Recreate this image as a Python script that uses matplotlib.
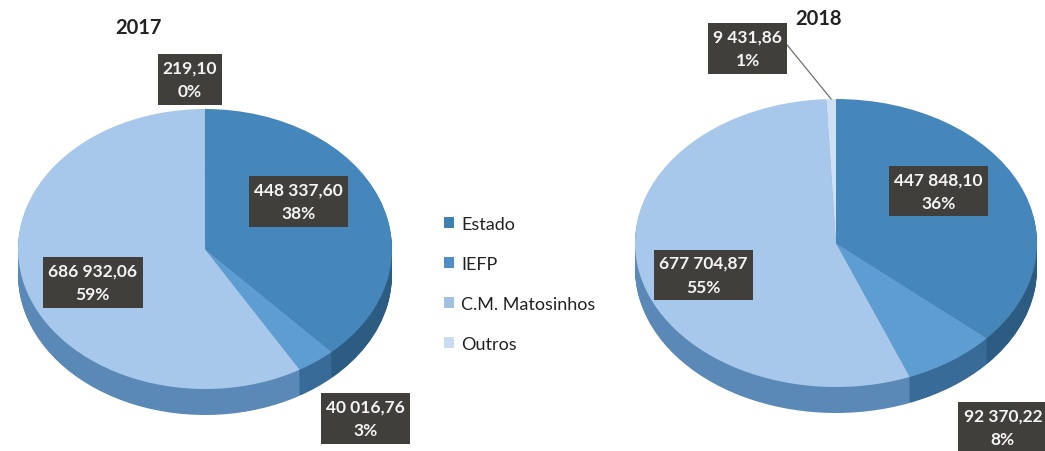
import matplotlib.pyplot as plt
import numpy as np
from matplotlib.patches import Patch

plt.rcParams["font.family"] = ["Lato", "DejaVu Sans"]

categories = ["Estado", "IEFP", "C.M. Matosinhos", "Outros"]
values_2017 = [448337.60, 40016.76, 686932.06, 219.10]
values_2018 = [447848.10, 92370.22, 677704.87, 9431.86]
pct_2017 = ["38%", "3%", "59%", "0%"]
pct_2018 = ["36%", "8%", "55%", "1%"]

top_colors = ["#4586bb", "#5e9dd2", "#a7c8eb", "#cfe0f4"]
side_colors = ["#2d5c82", "#386b97", "#5a89b8", "#7aa2cc"]
legend_colors = ["#3f80b3", "#4f8ec6", "#a2c0e0", "#c8dbf0"]

W, H = 1045, 452


def fmt_value(v):
    return f"{v:,.2f}".replace(",", " ").replace(".", ",")


def draw_pie(box_px, ry_px, depth_px, values, pcts, title, title_xy, label_pos, leader=False):
    left, top, right = box_px
    bottom = top + 2 * ry_px + depth_px
    ax = fig.add_axes([left / W, (H - bottom) / H, (right - left) / W, (bottom - top) / H])
    depth = depth_px / ry_px

    # stacked darker layers make the side wall of the tilted pie
    for off in np.linspace(depth, 0.01, 26):
        ax.pie(values, startangle=90, counterclock=False, colors=side_colors,
               center=(0, -off), radius=1, wedgeprops=dict(linewidth=0))
    wedges, _ = ax.pie(values, startangle=90, counterclock=False, colors=top_colors,
                       radius=1, wedgeprops=dict(linewidth=0))
    ax.set_aspect("auto")
    ax.set_xlim(-1, 1)
    ax.set_ylim(-1 - depth, 1)
    ax.axis("off")

    for i, (v, p) in enumerate(zip(values, pcts)):
        kw = dict(ha="center", va="center", color="#f4f4f4", fontsize=12.5,
                  fontweight="bold", linespacing=1.6,
                  bbox=dict(boxstyle="square,pad=0.3", fc="#403f3b", ec="none"),
                  annotation_clip=False)
        if leader and i == 3:
            w = wedges[i]
            mid = np.deg2rad((w.theta1 + w.theta2) / 2)
            ax.annotate(f"{fmt_value(v)}\n{p}", xy=(np.cos(mid), np.sin(mid)),
                        xytext=label_pos[i],
                        arrowprops=dict(arrowstyle="-", color="#707070", lw=0.9,
                                        shrinkA=0, shrinkB=0, relpos=(1, 0.75)),
                        **kw)
        else:
            ax.annotate(f"{fmt_value(v)}\n{p}", xy=label_pos[i], **kw)

    fig.text(title_xy[0] / W, 1 - title_xy[1] / H, title, ha="center", va="center",
             fontsize=14.5, fontweight="bold", color="#222222")


fig = plt.figure(figsize=(W / 100, H / 100), dpi=100)

labels_2017 = [(0.50, 0.34), (0.86, -1.21), (-0.60, -0.24), (-0.08, 1.21)]
labels_2018 = [(0.51, 0.36), (0.83, -1.28), (-0.66, -0.22), (-0.44, 1.35)]

draw_pie((18, 110, 392), 140, 26, values_2017, pct_2017, "2017", (138, 28), labels_2017)
draw_pie((635, 100, 1037), 144, 26, values_2018, pct_2018, "2018", (819, 19), labels_2018,
         leader=True)

handles = [Patch(facecolor=c, edgecolor="none") for c in legend_colors]
fig.legend(handles, categories, loc="upper left", bbox_to_anchor=(444 / W, 1 - 217 / H),
           frameon=False, fontsize=13, handlelength=0.55, handleheight=0.55,
           handletextpad=0.4, labelspacing=1.32, borderpad=0, borderaxespad=0,
           labelcolor="#222222")

fig.savefig("out.png", dpi=100)
